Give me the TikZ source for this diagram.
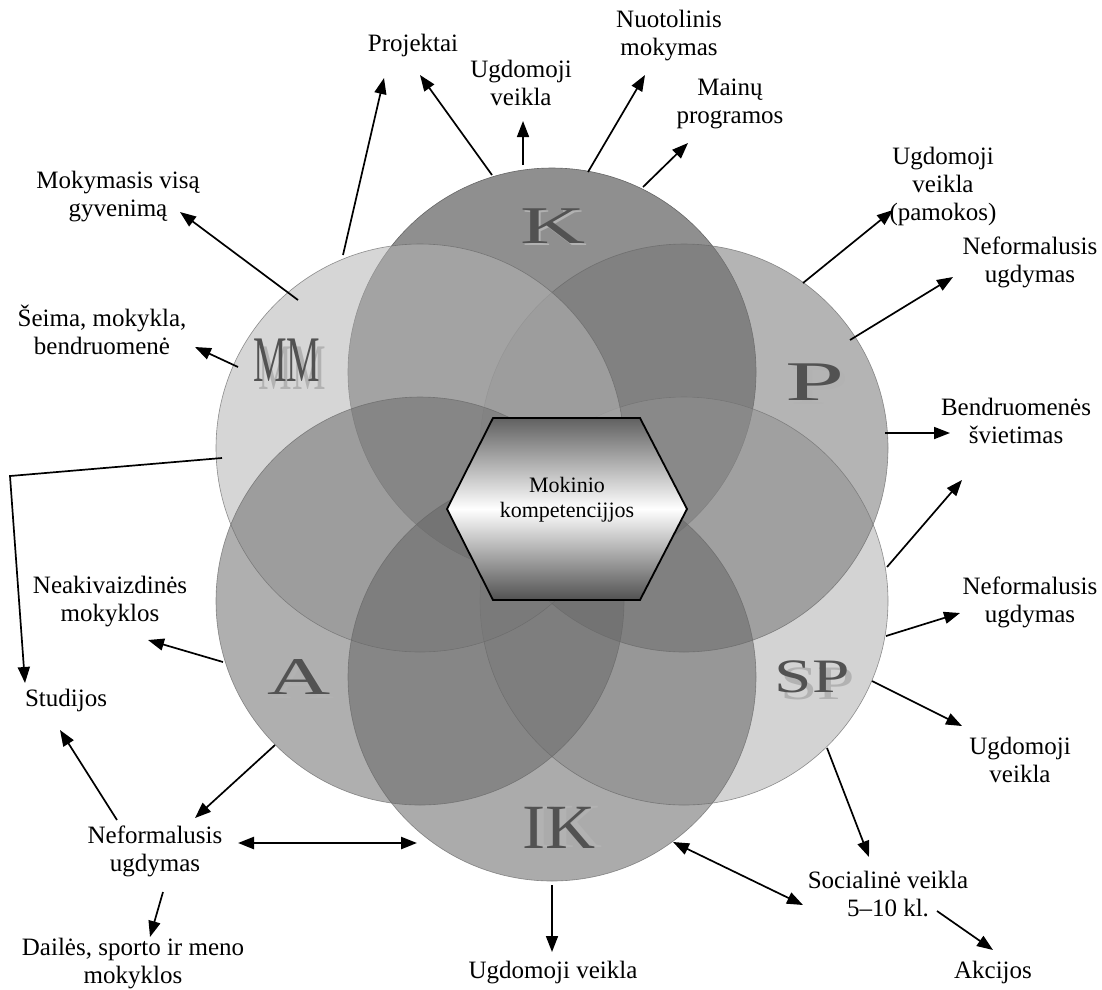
\documentclass[tikz,border=0pt]{standalone}
\usepackage{fontspec}
\setmainfont{Liberation Serif}
\usetikzlibrary{arrows.meta}
\definecolor{cK}{gray}{0.56}
\definecolor{cP}{gray}{0.465}
\definecolor{cSP}{gray}{0.69}
\definecolor{cIK}{gray}{0.40}
\definecolor{cA}{gray}{0.436}
\definecolor{cMM}{gray}{0.71}
\newcommand\shtxt[4]{\rlap{\kern#1\raisebox{#2}{\color{black!30}#3}}#4}
\begin{document}
\begin{tikzpicture}[x=1pt,y=-1pt,
  txt/.style={align=center, inner sep=0pt, font=\fontsize{25}{28}\selectfont},
  arr/.style={line width=1.7pt, -{Triangle[length=16pt,width=12pt]}},
  darr/.style={line width=2.4pt, {Triangle[length=16pt,width=12pt]}-{Triangle[length=16pt,width=12pt]}},
  circ/.style={fill opacity=0.55, draw=black!60, draw opacity=0.7, line width=0.6pt},
  big/.style={inner sep=0pt, text=black!68},
]
\useasboundingbox (0,0) rectangle (1102,989);
\fill[white] (0,0) rectangle (1102,989);

% circles
\path[fill=cK, draw=black!60, line width=0.6pt]  (552,372) circle[radius=204pt];
\path[circ, fill=cSP] (684,601) circle[radius=204pt];
\path[circ, fill=cP]  (684,448) circle[radius=204pt];
\path[circ, fill=cMM] (420,448) circle[radius=204pt];
\path[circ, fill=cA]  (420,601) circle[radius=204pt];
\path[circ, fill=cIK] (552,677) circle[radius=204pt];

% circle labels (with light shadow copy)
\node[big, font=\fontsize{53}{53}\selectfont] (lK) at (553,227) {\scalebox{1.7}[1]{\shtxt{1pt}{-2pt}{K}{K}}};
\node[big, font=\fontsize{65}{65}\selectfont] (lMM) at (287,364) {\scalebox{0.58}[1]{\shtxt{9pt}{-8pt}{MM}{MM}}};
\node[big, font=\fontsize{56}{56}\selectfont] (lP) at (815,384) {\scalebox{1.9}[1]{\shtxt{2.5pt}{-4pt}{P}{P}}};
\node[big, font=\fontsize{48}{48}\selectfont] (lSP) at (812,680) {\scalebox{1.4}[1]{\shtxt{4pt}{-7pt}{SP}{SP}}};
\node[big, font=\fontsize{53}{53}\selectfont] (lA) at (299,679) {\scalebox{1.65}[1]{\shtxt{2.5pt}{-4pt}{A}{A}}};
\node[big, font=\fontsize{63}{63}\selectfont] (lIK) at (559,827) {\scalebox{1.1}[1]{\shtxt{6pt}{1pt}{IK}{IK}}};

% hexagon
\shade[top color=black!62, bottom color=black!68, middle color=white, draw=black, line width=1.8pt, line join=miter]
  (447,509) -- (493,418) -- (640,418) -- (687,509) -- (640,600) -- (493,600) -- cycle;
\node[align=center, inner sep=0pt, font=\fontsize{22}{25}\selectfont] (hex) at (567,500) {Mokinio\\kompetencijjos};

% text nodes
\node[txt] (proj) at (413,45) {Projektai};
\node[txt] (ugd1) at (521,83) {Ugdomoji\\veikla};
\node[txt] (nuot) at (669,36) {Nuotolinis\\mokymas};
\node[txt] (main) at (730,104) {Mainų\\programos};
\node[txt] (ugd2) at (943,186) {Ugdomoji\\veikla\\(pamokos)};
\node[txt] (nef1) at (1030,262) {Neformalusis\\ugdymas};
\node[txt] (bend) at (1016,421) {Bendruomenės\\švietimas};
\node[txt] (nef2) at (1030,602) {Neformalusis\\ugdymas};
\node[txt] (ugd3) at (1020,760) {Ugdomoji\\veikla};
\node[txt] (soc) at (888,894) {Socialinė veikla\\5–10 kl.};
\node[txt] (akc) at (993,972) {Akcijos};
\node[txt] (ugd4) at (553,973) {Ugdomoji veikla};
\node[txt] (dail) at (133,964) {Dailės, sporto ir meno\\mokyklos};
\node[txt] (nef3) at (155,851) {Neformalusis\\ugdymas};
\node[txt] (stud) at (66,700) {Studijos};
\node[txt] (neak) at (110,602) {Neakivaizdinės\\mokyklos};
\node[txt] (seim) at (102,330) {Šeima, mokykla,\\bendruomenė};
\node[txt] (moky) at (118,197) {Mokymasis visą\\gyvenimą};

% connector end points
\coordinate (s1) at (343,255);  \coordinate (e1) at (384,78);
\coordinate (s2) at (492,175);  \coordinate (e2) at (420,75);
\coordinate (s3) at (523,165);  \coordinate (e3) at (523,121);
\coordinate (s4) at (588,172);  \coordinate (e4) at (645,75);
\coordinate (s5) at (643,187);  \coordinate (e5) at (688,143);
\coordinate (s6) at (803,283);  \coordinate (e6) at (893,210);
\coordinate (s7) at (850,340);  \coordinate (e7) at (953,277);
\coordinate (s8) at (885,433);  \coordinate (e8) at (950,433);
\coordinate (s9) at (887,567);  \coordinate (e9) at (962,480);
\coordinate (s10) at (886,636); \coordinate (e10) at (960,613);
\coordinate (s11) at (872,681); \coordinate (e11) at (962,726);
\coordinate (s12) at (827,748); \coordinate (e12) at (869,857);
\coordinate (s13) at (937,911); \coordinate (e13) at (993,950);
\coordinate (s14) at (673,842); \coordinate (e14) at (803,905);
\coordinate (s15) at (552,885); \coordinate (e15) at (552,952);
\coordinate (s16) at (238,843); \coordinate (e16) at (417,843);
\coordinate (s17) at (163,892); \coordinate (e17) at (150,937);
\coordinate (s18) at (117,820); \coordinate (e18) at (60,730);
\coordinate (s19) at (275,745); \coordinate (e19) at (195,818);
\coordinate (s20) at (223,662); \coordinate (e20) at (148,640);
\coordinate (s21) at (222,458); \coordinate (c21) at (10,476); \coordinate (e21) at (25,683);
\coordinate (s22) at (238,367); \coordinate (e22) at (195,347);
\coordinate (s23) at (298,300); \coordinate (e23) at (180,212);

\draw[arr] (s1) -- (e1);
\draw[arr] (s2) -- (e2);
\draw[arr] (s3) -- (e3);
\draw[arr] (s4) -- (e4);
\draw[arr] (s5) -- (e5);
\draw[arr] (s6) -- (e6);
\draw[arr] (s7) -- (e7);
\draw[arr] (s8) -- (e8);
\draw[arr] (s9) -- (e9);
\draw[arr] (s10) -- (e10);
\draw[arr] (s11) -- (e11);
\draw[arr] (s12) -- (e12);
\draw[arr] (s13) -- (e13);
\draw[darr, line width=1.7pt] (s14) -- (e14);
\draw[arr] (s15) -- (e15);
\draw[darr] (s16) -- (e16);
\draw[arr] (s17) -- (e17);
\draw[arr] (s18) -- (e18);
\draw[arr] (s19) -- (e19);
\draw[arr] (s20) -- (e20);
\draw[arr] (s21) -- (c21) -- (e21);
\draw[arr] (s22) -- (e22);
\draw[arr] (s23) -- (e23);
\end{tikzpicture}
\end{document}
